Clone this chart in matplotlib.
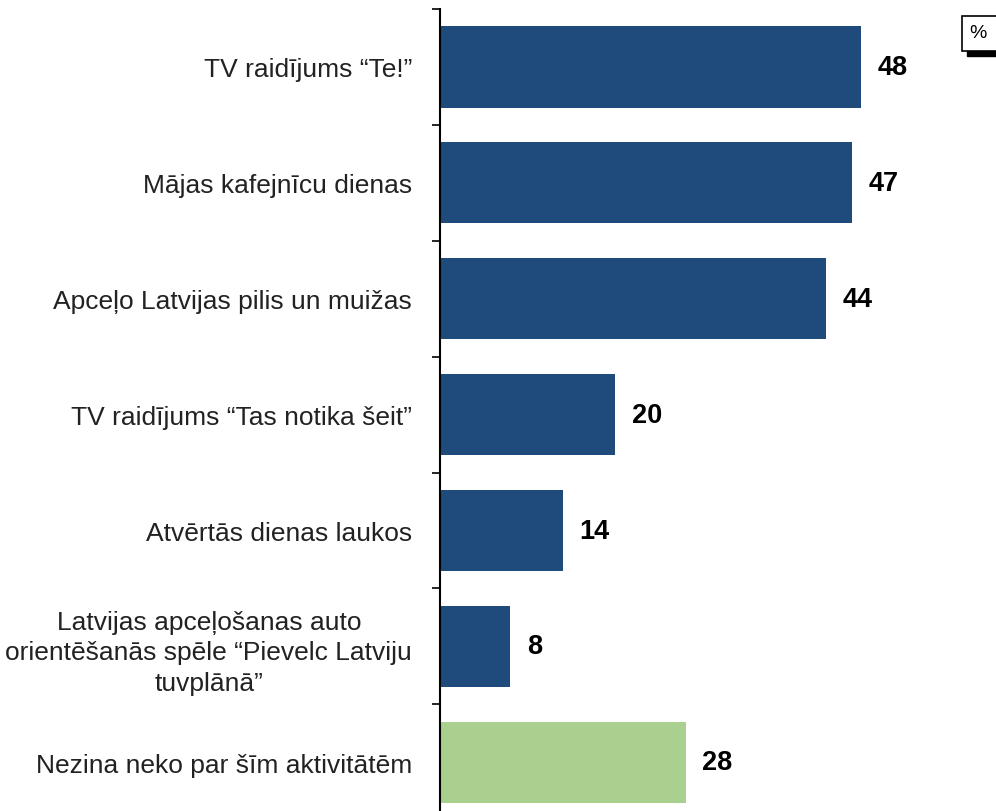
import matplotlib.pyplot as plt
from matplotlib.patches import Rectangle

plt.rcParams['font.family'] = ['Liberation Sans', 'DejaVu Sans']

labels = [
    "TV raidījums “Te!”",
    "Mājas kafejnīcu dienas",
    "Apceļo Latvijas pilis un muižas",
    "TV raidījums “Tas notika šeit”",
    "Atvērtās dienas laukos",
    "Latvijas apceļošanas auto\norientēšanās spēle “Pievelc Latviju\ntuvplānā”",
    "Nezina neko par šīm aktivitātēm",
]
values = [48, 47, 44, 20, 14, 8, 28]
colors = ["#1F4A7C"] * 6 + ["#A9D08E"]

fig = plt.figure(figsize=(9.96, 8.12), dpi=100)
ax = fig.add_axes([440 / 996, 0, 1 - 440 / 996, 1 - 10 / 812])

pos = list(range(len(values)))
ax.barh(pos, values, height=0.7, color=colors)

ax.set_xlim(0, 63.4)
ax.set_ylim(6.42, -0.5)

for p, v in zip(pos, values):
    ax.text(v + 1.9, p, str(v), va="center", ha="left",
            fontsize=19.5, fontweight="bold")

ax.set_yticks(pos)
ax.set_yticklabels(labels, fontsize=19, color="#222222",
                   multialignment="center", linespacing=1.35)
ax.tick_params(axis="y", which="major", length=0, pad=20)
ax.set_yticks([i - 0.5 for i in range(7)], minor=True)
ax.tick_params(axis="y", which="minor", length=6, width=1.2, direction="out")
ax.set_xticks([])

for s in ["top", "right", "bottom"]:
    ax.spines[s].set_visible(False)
ax.spines["left"].set_linewidth(1.5)

# "%" box with shadow
fig.patches.append(Rectangle((967 / 996, 1 - 57 / 812), 40 / 996, 6 / 812,
                             transform=fig.transFigure, color="black"))
fig.patches.append(Rectangle((962 / 996, 1 - 52 / 812), 40 / 996, 35 / 812,
                             transform=fig.transFigure, facecolor="white",
                             edgecolor="black", linewidth=1.2))
fig.text(969 / 996, 1 - 34 / 812, "%", fontsize=14, va="center", ha="left")

fig.savefig("out.png", dpi=100)
